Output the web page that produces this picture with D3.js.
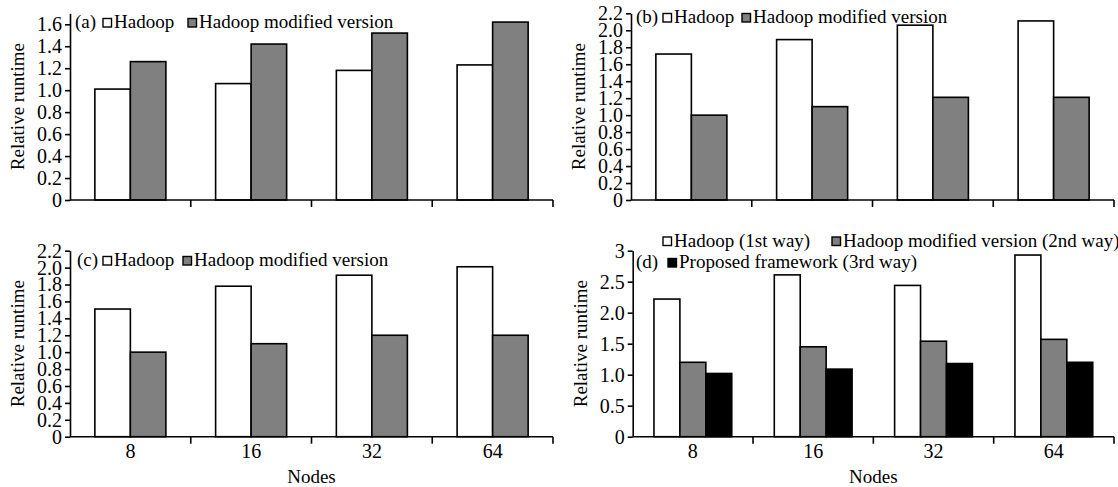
<!DOCTYPE html>
<html>
<head>
<script src="https://d3js.org/d3.v7.min.js"></script>
<style>
  body { margin: 0; background: #fff; }
  text { font-family: "Liberation Serif", "Times New Roman", serif; fill: #000; }
</style>
</head>
<body>
<svg class="target" width="1118" height="487"></svg>
<script>

// data
nodes = ['8', '16', '32', '64']

seriesAB = ['Hadoop', 'Hadoop modified version']
seriesD = ['Hadoop (1st way)', 'Hadoop modified version (2nd way)', 'Proposed framework (3rd way)']

valuesA = [[1.01, 1.06, 1.18, 1.23], [1.26, 1.42, 1.52, 1.62]]
valuesB = [[1.72, 1.89, 2.06, 2.11], [1.00, 1.10, 1.21, 1.21]]
valuesC = [[1.51, 1.78, 1.91, 2.01], [1.00, 1.10, 1.20, 1.20]]
valuesD = [[2.22, 2.61, 2.44, 2.93], [1.20, 1.45, 1.54, 1.57], [1.02, 1.09, 1.18, 1.20]]

ticksA = ['0', '0.2', '0.4', '0.6', '0.8', '1.0', '1.2', '1.4', '1.6']
ticksBC = ['0', '0.2', '0.4', '0.6', '0.8', '1.0', '1.2', '1.4', '1.6', '1.8', '2.0', '2.2']
ticksD = ['0', '0.5', '1.0', '1.5', '2.0', '2.5', '3']

colors = ['#ffffff', '#808080', '#000000']

const svg = d3.select('.target')

panels = [
  { tag: '(a)', series: seriesAB, values: valuesA, ticks: ticksA, yMax: 1.7,
    box: { left: 70, right: 553, top: 13.3, bottom: 200 }, labels: false,
    legend: { tagX: 75, rows: [{ y: 28, items: [[103, 0], [188, 1]] }] } },
  { tag: '(b)', series: seriesAB, values: valuesB, ticks: ticksBC, yMax: 2.2,
    box: { left: 631, right: 1114, top: 13.3, bottom: 200 }, labels: false,
    legend: { tagX: 636, rows: [{ y: 23, items: [[663, 0], [742, 1]] }] } },
  { tag: '(c)', series: seriesAB, values: valuesC, ticks: ticksBC, yMax: 2.2,
    box: { left: 70, right: 553, top: 250.7, bottom: 436.7 }, labels: true,
    legend: { tagX: 77, rows: [{ y: 266, items: [[103, 0], [183, 1]] }] } },
  { tag: '(d)', series: seriesD, values: valuesD, ticks: ticksD, yMax: 3,
    box: { left: 632.7, right: 1114, top: 250.7, bottom: 436.7 }, labels: true,
    legend: { tagX: 636, tagY: 268, rows: [
      { y: 246.5, items: [[663, 0], [832, 1]] },
      { y: 268, items: [[668, 2]] }
    ] } }
]

panels.forEach(p => {
  const b = p.box
  const g = svg.append('g')

  const x0 = d3.scaleBand(nodes, [b.left, b.right])
  const x1 = d3.scaleBand(d3.range(p.series.length), [0, x0.step()])
    .paddingOuter(p.series.length === 2 ? 0.7 : 0.82)
  const y = d3.scaleLinear([0, p.yMax], [b.bottom, b.top])

  // bars
  p.values.forEach((vals, si) => {
    g.append('g').selectAll('rect')
      .data(vals)
      .join('rect')
        .attr('x', (d, i) => x0(nodes[i]) + x1(si))
        .attr('y', d => y(d))
        .attr('width', x1.bandwidth())
        .attr('height', d => y(0) - y(d))
        .attr('fill', colors[si])
        .attr('stroke', '#000')
        .attr('stroke-width', 1.6)
  })

  // y axis
  const yAxis = d3.axisLeft(y)
    .tickValues(p.ticks.map(Number))
    .tickFormat((d, i) => p.ticks[i])
    .tickSize(5)
    .tickPadding(3)
    .tickSizeOuter(0)
  const ya = g.append('g')
    .attr('transform', `translate(${b.left},0)`)
    .call(yAxis)
  ya.selectAll('text').style('font-size', '20px').attr('font-family', null)
  ya.selectAll('line, path').attr('stroke', '#000').attr('stroke-width', 1.6)

  // x axis: line plus ticks between groups
  g.append('line')
    .attr('x1', b.left).attr('x2', b.right)
    .attr('y1', y(0)).attr('y2', y(0))
    .attr('stroke', '#000').attr('stroke-width', 1.6)
  g.append('g').selectAll('line')
    .data(nodes.slice(1).map(n => x0(n)).concat([b.right]))
    .join('line')
      .attr('x1', d => d).attr('x2', d => d)
      .attr('y1', y(0)).attr('y2', y(0) + 7)
      .attr('stroke', '#000').attr('stroke-width', 1.6)

  if (p.labels) {
    g.append('g').selectAll('text')
      .data(nodes)
      .join('text')
        .attr('x', d => x0(d) + x0.bandwidth() / 2)
        .attr('y', y(0) + 21)
        .attr('text-anchor', 'middle')
        .style('font-size', '20px')
        .text(d => d)
    g.append('text')
      .attr('x', (b.left + b.right) / 2)
      .attr('y', y(0) + 46)
      .attr('text-anchor', 'middle')
      .style('font-size', '19px')
      .text('Nodes')
  }

  // y label
  g.append('text')
    .attr('transform', `translate(${b.left - 46},${(b.top + b.bottom) / 2}) rotate(-90)`)
    .attr('text-anchor', 'middle')
    .style('font-size', '19px')
    .text('Relative runtime')

  // legend
  const lg = p.legend
  g.append('text')
    .attr('x', lg.tagX)
    .attr('y', lg.tagY || lg.rows[0].y)
    .style('font-size', '19px')
    .text(p.tag)
  lg.rows.forEach(row => {
    row.items.forEach(([lx, si]) => {
      g.append('rect')
        .attr('x', lx).attr('y', row.y - 9.5)
        .attr('width', 8.5).attr('height', 8.5)
        .attr('fill', colors[si])
        .attr('stroke', '#000').attr('stroke-width', 1.4)
      g.append('text')
        .attr('x', lx + 11)
        .attr('y', row.y)
        .style('font-size', '19px')
        .text(p.series[si])
    })
  })
})

</script>
</body>
</html>
